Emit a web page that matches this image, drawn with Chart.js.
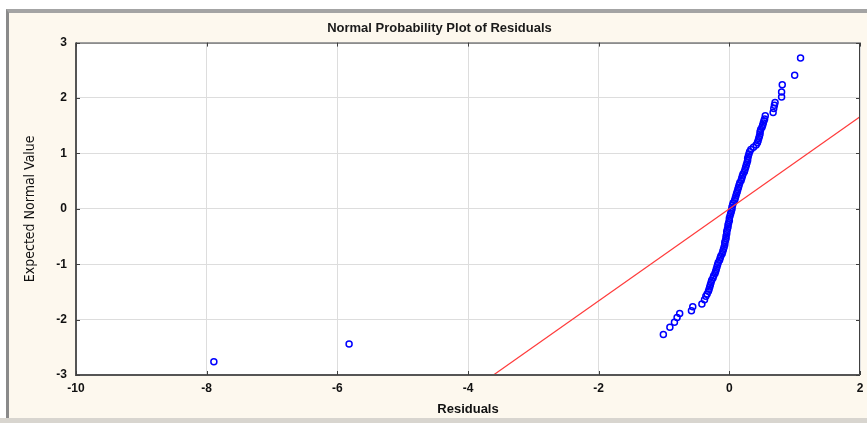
<!DOCTYPE html>
<html>
<head>
<meta charset="utf-8">
<script src="https://cdn.jsdelivr.net/npm/chart.js@4/dist/chart.umd.min.js"></script>
<style>
  body { margin: 0; background: #ffffff; }
  #wrap { position: relative; width: 867px; height: 423px; overflow: hidden; }
  #frame { position: absolute; left: 6px; top: 9px; width: 861px; height: 410px;
           background: #fdf8ee; border-top: 4px solid #a4a4a4; border-left: 3px solid #8a8a8a; box-sizing: border-box; }
  #bottomBar { position: absolute; left: 0; top: 418px; width: 867px; height: 5px; background: #d8d5cf; }
  canvas { position: absolute; left: 0; top: 0; }
</style>
</head>
<body>
<div id="wrap">
  <div id="frame"></div>
  <div id="bottomBar"></div>
  <canvas id="chart-residuos" width="867" height="423"></canvas>
</div>
<script>
// residuos ordenados (x) y valor normal esperado (y)
var residuals = [-7.89, -5.82, -1.01, -0.91, -0.84, -0.80, -0.76, -0.58, -0.56, -0.42,
  -0.38, -0.36, -0.34, -0.32, -0.31, -0.30, -0.29, -0.28, -0.27, -0.25,
  -0.24, -0.22, -0.21, -0.20, -0.19, -0.18, -0.17, -0.15, -0.14, -0.13,
  -0.11, -0.10, -0.09, -0.08, -0.07, -0.07, -0.06, -0.05, -0.05, -0.04,
  -0.04, -0.03, -0.02, -0.02, -0.01, 0.00, 0.00, 0.01, 0.02, 0.03,
  0.04, 0.04, 0.05, 0.06, 0.08, 0.09, 0.10, 0.11, 0.12, 0.13,
  0.14, 0.15, 0.16, 0.18, 0.19, 0.20, 0.21, 0.23, 0.24, 0.25,
  0.26, 0.27, 0.28, 0.28, 0.29, 0.30, 0.31, 0.33, 0.37, 0.41,
  0.43, 0.44, 0.45, 0.46, 0.47, 0.47, 0.48, 0.50, 0.51, 0.52,
  0.53, 0.54, 0.55, 0.67, 0.68, 0.69, 0.70, 0.80, 0.80, 0.81,
  1.00, 1.09];
var expectedNormal = [-2.76, -2.44, -2.27, -2.14, -2.05, -1.96, -1.89, -1.84, -1.77, -1.72,
  -1.64, -1.58, -1.54, -1.49, -1.45, -1.41, -1.37, -1.33, -1.29, -1.25,
  -1.21, -1.17, -1.13, -1.09, -1.05, -1.01, -0.97, -0.93, -0.89, -0.85,
  -0.81, -0.77, -0.73, -0.69, -0.65, -0.61, -0.57, -0.53, -0.49, -0.45,
  -0.41, -0.37, -0.33, -0.29, -0.25, -0.21, -0.17, -0.13, -0.09, -0.05,
  -0.01, 0.03, 0.07, 0.11, 0.15, 0.19, 0.23, 0.27, 0.31, 0.35,
  0.39, 0.43, 0.47, 0.51, 0.55, 0.59, 0.63, 0.67, 0.71, 0.75,
  0.79, 0.83, 0.87, 0.91, 0.95, 0.99, 1.03, 1.07, 1.11, 1.15,
  1.19, 1.23, 1.27, 1.31, 1.35, 1.39, 1.43, 1.47, 1.51, 1.55,
  1.59, 1.62, 1.68, 1.74, 1.81, 1.87, 1.92, 2.02, 2.11, 2.24,
  2.41, 2.72];
// recta de referencia
var lineX = [-3.61, 2];
var lineY = [-3, 1.66];
var xTicks = [-10, -8, -6, -4, -2, 0, 2];
var yTicks = [-3, -2, -1, 0, 1, 2, 3];

function toPoints(xs, ys) {
  var pts = [];
  xs.forEach(function (x, i) {
    pts.push({ x: x, y: ys[i] });
  });
  return pts;
}

var tickFont = { family: "'Liberation Sans', Arial, sans-serif", size: 12, weight: "bold" };

var plotFrame = {
  id: "plotFrame",
  beforeDraw: function (chart) {
    var a = chart.chartArea, ctx = chart.ctx;
    ctx.save();
    ctx.fillStyle = "#ffffff";
    ctx.fillRect(a.left, a.top, a.right - a.left, a.bottom - a.top);
    ctx.restore();
  },
  afterDraw: function (chart) {
    var a = chart.chartArea, ctx = chart.ctx;
    var xs = chart.scales.x, ys = chart.scales.y;
    ctx.save();
    ctx.strokeStyle = "#404040";
    ctx.lineWidth = 1;
    ctx.strokeRect(a.left + 0.5, a.top + 0.5, a.right - a.left - 1, a.bottom - a.top);
    ctx.lineWidth = 2;
    ctx.strokeStyle = "#555555";
    ctx.beginPath();
    ctx.moveTo(a.left, a.top);
    ctx.lineTo(a.left, a.bottom);
    ctx.lineTo(a.right, a.bottom);
    ctx.stroke();
    // marcas cortas hacia adentro
    ctx.lineWidth = 1;
    ctx.strokeStyle = "#404040";
    ctx.beginPath();
    yTicks.forEach(function (v) {
      var py = Math.round(ys.getPixelForValue(v)) + 0.5;
      ctx.moveTo(a.left, py); ctx.lineTo(a.left + 4, py);
      ctx.moveTo(a.right, py); ctx.lineTo(a.right - 4, py);
    });
    xTicks.forEach(function (v) {
      var px = Math.round(xs.getPixelForValue(v)) + 0.5;
      ctx.moveTo(px, a.bottom); ctx.lineTo(px, a.bottom - 4);
      ctx.moveTo(px, a.top); ctx.lineTo(px, a.top + 4);
    });
    ctx.stroke();
    ctx.restore();
  }
};

new Chart("chart-residuos", {
  type: "scatter",
  data: {
    datasets: [{
      type: "line",
      data: toPoints(lineX, lineY),
      borderColor: "#ff3b3b",
      borderWidth: 1.2,
      pointRadius: 0,
      fill: false
    }, {
      data: toPoints(residuals, expectedNormal),
      pointStyle: "circle",
      pointRadius: 3,
      borderWidth: 1.5,
      borderColor: "#0000ff",
      backgroundColor: "rgba(0,0,0,0)"
    }]
  },
  plugins: [plotFrame],
  options: {
    responsive: false,
    devicePixelRatio: 1,
    animation: false,
    layout: { padding: { left: 19, right: 7, top: 13, bottom: 3 } },
    plugins: {
      legend: { display: false },
      tooltip: { enabled: false },
      title: {
        display: true,
        text: "Normal Probability Plot of Residuals",
        color: "#1a1a1a",
        font: { family: "'Liberation Sans', Arial, sans-serif", size: 13, weight: "bold" },
        padding: { top: 8, bottom: 6 }
      }
    },
    scales: {
      x: {
        type: "linear",
        min: -10,
        max: 2,
        afterBuildTicks: function (scale) {
          scale.ticks = xTicks.map(function (v) { return { value: v }; });
        },
        afterFit: function (scale) {
          scale.height = 45;
          scale.paddingRight = 0;
        },
        grid: { color: "#dddddd", drawTicks: false },
        border: { display: false },
        ticks: { color: "#111111", font: tickFont, padding: 6 },
        title: {
          display: true,
          text: "Residuals",
          color: "#111111",
          font: { family: "'Liberation Sans', Arial, sans-serif", size: 13, weight: "bold" },
          padding: { top: 0, bottom: 3 }
        }
      },
      y: {
        type: "linear",
        min: -3,
        max: 3,
        afterBuildTicks: function (scale) {
          scale.ticks = yTicks.map(function (v) { return { value: v }; });
        },
        afterFit: function (scale) { scale.width = 57; },
        grid: { color: "#dddddd", drawTicks: false },
        border: { display: false },
        ticks: { color: "#111111", font: tickFont, padding: 9 },
        title: {
          display: true,
          text: "Expected Normal Value",
          color: "#111111",
          font: { family: "'Liberation Sans Narrow', 'DejaVu Sans Condensed', Arial, sans-serif", size: 14 },
          padding: { top: 3, bottom: 0 }
        }
      }
    }
  }
});
</script>
</body>
</html>
